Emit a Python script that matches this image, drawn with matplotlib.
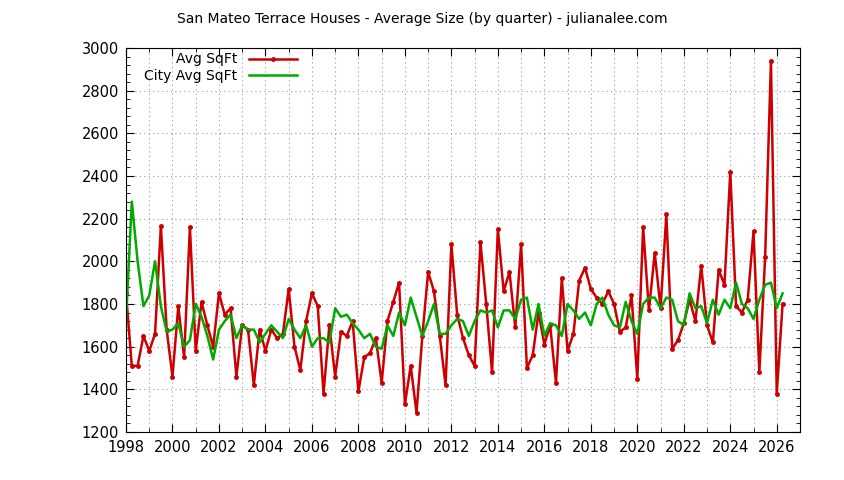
import numpy as np
import matplotlib
matplotlib.use("Agg")
import matplotlib.pyplot as plt
from matplotlib.ticker import MultipleLocator

avg_sqft = [
    1850, 1510, 1510, 1650, 1580, 1660, 2165, 1680, 1460, 1790, 1550, 2160,
    1580, 1810, 1700, 1600, 1850, 1750, 1780, 1460, 1700, 1680, 1420, 1680,
    1580, 1680, 1640, 1660, 1870, 1600, 1490, 1720, 1850, 1790, 1380, 1700,
    1460, 1670, 1650, 1720, 1390, 1550, 1570, 1640, 1430, 1720, 1810, 1900,
    1330, 1510, 1290, 1650, 1950, 1860, 1650, 1420, 2080, 1750, 1640, 1560,
    1510, 2090, 1800, 1480, 2150, 1860, 1950, 1690, 2080, 1500, 1560, 1760,
    1610, 1700, 1430, 1920, 1580, 1660, 1910, 1970, 1870, 1830, 1800, 1860,
    1800, 1670, 1690, 1840, 1450, 2160, 1770, 2040, 1780, 2220, 1590, 1630,
    1710, 1820, 1720, 1980, 1700, 1620, 1960, 1890, 2420, 1790, 1760, 1820,
    2140, 1480, 2020, 2940, 1380, 1800,
]
city_avg_sqft = [
    1720, 2280, 2000, 1790, 1840, 2000, 1790, 1670, 1680, 1710, 1600, 1630,
    1800, 1740, 1650, 1540, 1680, 1720, 1750, 1640, 1700, 1680, 1680, 1620,
    1660, 1700, 1670, 1640, 1730, 1680, 1640, 1700, 1600, 1640, 1640, 1620,
    1780, 1740, 1750, 1710, 1680, 1640, 1660, 1600, 1590, 1700, 1650, 1760,
    1700, 1830, 1740, 1650, 1720, 1800, 1660, 1660, 1700, 1730, 1720, 1650,
    1720, 1770, 1760, 1770, 1690, 1770, 1770, 1730, 1820, 1830, 1680, 1800,
    1650, 1710, 1700, 1650, 1800, 1770, 1730, 1760, 1700, 1800, 1830, 1750,
    1700, 1690, 1810, 1720, 1660, 1800, 1830, 1830, 1780, 1830, 1820, 1720,
    1700, 1850, 1780, 1790, 1710, 1820, 1750, 1820, 1780, 1900, 1800, 1780,
    1730, 1820, 1890, 1900, 1780, 1850,
]
quarters = 1998 + np.arange(len(avg_sqft)) * 0.25

fig = plt.figure(figsize=(8.44, 4.8), dpi=100)
ax = fig.add_axes([126 / 844, 1 - 432 / 480, 674 / 844, 384 / 480])

ax.plot(quarters, avg_sqft, color="#cc0000", lw=1.8, marker="o", ms=2.5, label="Avg SqFt")
ax.plot(quarters, city_avg_sqft, color="#00aa00", lw=1.8, label="City Avg SqFt")

ax.set_xlim(1998, 2027)
ax.set_ylim(1200, 3000)
ax.xaxis.set_major_locator(MultipleLocator(2))
ax.xaxis.set_minor_locator(MultipleLocator(1))
ax.yaxis.set_major_locator(MultipleLocator(200))
ax.yaxis.set_minor_locator(MultipleLocator(40))
ax.tick_params(which="both", direction="in", top=True, right=True, labelsize=10.5)
ax.tick_params(which="major", length=6)
ax.tick_params(which="minor", length=3)
ax.tick_params(axis="x", pad=6)
ax.tick_params(axis="y", pad=5)
ax.grid(True, which="major", color="#999999", ls=(0, (1, 3)), lw=0.8)
ax.grid(True, which="minor", axis="x", color="#999999", ls=(0, (1, 3)), lw=0.8)

fig.suptitle("San Mateo Terrace Houses - Average Size (by quarter) - julianalee.com",
             y=0.975, fontsize=10)
ax.legend(loc="upper left", frameon=False, markerfirst=False, fontsize=10,
          bbox_to_anchor=(0.015, 1.01), handlelength=3.5, borderaxespad=0.2,
          labelspacing=0.2)

fig.savefig("out.png", dpi=100)
